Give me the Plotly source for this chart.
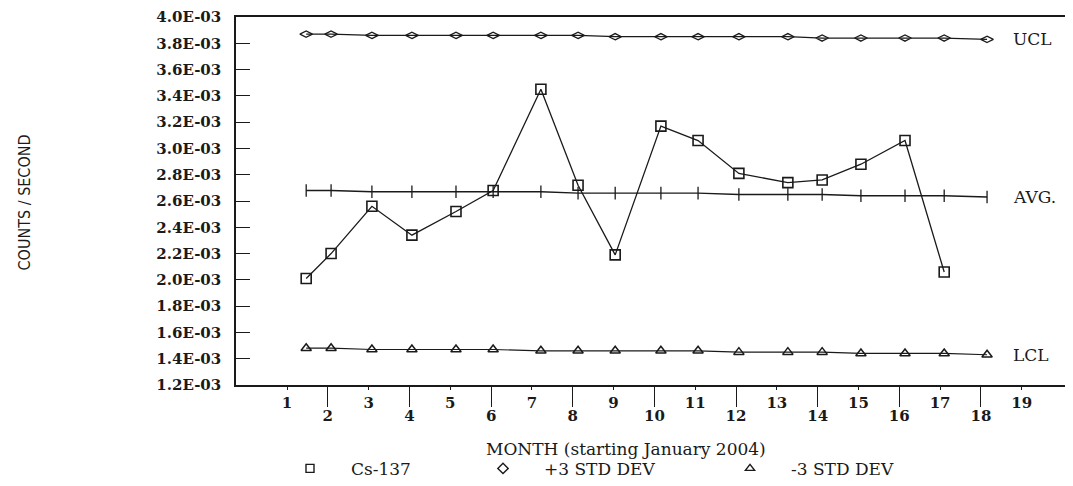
import plotly.graph_objects as go

# ---------------- data ----------------
# sample positions along the month axis (fractional months)
sample_month = [1.47, 2.08, 3.08, 4.06, 5.14, 6.05, 7.22, 8.13, 9.04, 10.16,
                11.07, 12.07, 13.27, 14.11, 15.06, 16.14, 17.10, 18.15]
# Cs-137 counts / second (17 readings)
cs137 = [2.01e-3, 2.20e-3, 2.56e-3, 2.34e-3, 2.52e-3, 2.68e-3, 3.45e-3, 2.72e-3,
         2.19e-3, 3.17e-3, 3.06e-3, 2.81e-3, 2.74e-3, 2.76e-3, 2.88e-3, 3.06e-3,
         2.06e-3]
ucl = [3.87e-3, 3.87e-3, 3.86e-3, 3.86e-3, 3.86e-3, 3.86e-3, 3.86e-3, 3.86e-3,
       3.85e-3, 3.85e-3, 3.85e-3, 3.85e-3, 3.85e-3, 3.84e-3, 3.84e-3, 3.84e-3,
       3.84e-3, 3.83e-3]
avg = [2.68e-3, 2.68e-3, 2.67e-3, 2.67e-3, 2.67e-3, 2.67e-3, 2.67e-3, 2.66e-3,
       2.66e-3, 2.66e-3, 2.66e-3, 2.65e-3, 2.65e-3, 2.65e-3, 2.64e-3, 2.64e-3,
       2.64e-3, 2.63e-3]
lcl = [1.48e-3, 1.48e-3, 1.47e-3, 1.47e-3, 1.47e-3, 1.47e-3, 1.46e-3, 1.46e-3,
       1.46e-3, 1.46e-3, 1.46e-3, 1.45e-3, 1.45e-3, 1.45e-3, 1.44e-3, 1.44e-3,
       1.44e-3, 1.43e-3]

month_even = [2, 4, 6, 8, 10, 12, 14, 16, 18]
month_odd = [1, 3, 5, 7, 9, 11, 13, 15, 17, 19]
y_ticks = [1.2e-3, 1.4e-3, 1.6e-3, 1.8e-3, 2.0e-3, 2.2e-3, 2.4e-3, 2.6e-3,
           2.8e-3, 3.0e-3, 3.2e-3, 3.4e-3, 3.6e-3, 3.8e-3, 4.0e-3]
y_tick_text = [f"{v:.1E}" for v in y_ticks]

series_names = ["Cs-137", "+3 STD DEV", "-3 STD DEV"]
right_labels = ["UCL", "AVG.", "LCL"]
x_title = "MONTH (starting January 2004)"
y_title = "COUNTS / SECOND"

# ---------------- layout geometry ----------------
INK = "#1a1a1a"
SERIF = "DejaVu Serif, Liberation Serif, serif"
W, H = 1073, 486
OFF = 8                      # page body margin offset
PLOT_L, PLOT_T, PLOT_B = 236 - OFF, 12 - OFF, 385 - OFF
MT, MB = PLOT_T, H - PLOT_B
PLOT_H = PLOT_B - PLOT_T
PX_PER_MONTH = 40.82
M1_PX = 287 - OFF
X_RANGE = [1 + (PLOT_L - M1_PX) / PX_PER_MONTH, 1 + (W - M1_PX) / PX_PER_MONTH]


def px_x(p):
    return (p - OFF) / W


def px_y(p):
    return (PLOT_B - (p - OFF)) / PLOT_H


fig = go.Figure()

fig.add_trace(go.Scatter(
    x=sample_month, y=ucl, mode="lines+markers", showlegend=False,
    line=dict(color=INK, width=1.2),
    marker=dict(symbol="diamond-wide-open", size=9, color=INK, line=dict(width=1.3))))
fig.add_trace(go.Scatter(
    x=sample_month, y=avg, mode="lines+markers", showlegend=False,
    line=dict(color=INK, width=1.4),
    marker=dict(symbol="line-ns", size=9, color=INK, line=dict(width=1.3, color=INK))))
fig.add_trace(go.Scatter(
    x=sample_month, y=lcl, mode="lines+markers", showlegend=False,
    line=dict(color=INK, width=1.2),
    marker=dict(symbol="triangle-up-open", size=9, color=INK, line=dict(width=1.5))))
fig.add_trace(go.Scatter(
    x=sample_month[:len(cs137)], y=cs137, mode="lines+markers", showlegend=False,
    line=dict(color=INK, width=1.3),
    marker=dict(symbol="square-open", size=10, color=INK, line=dict(width=1.6))))

# legend entries (marker only, like the original), one legend box each
legend_symbols = ["square-open", "diamond-open", "triangle-up-open"]
legend_ids = ["legend", "legend2", "legend3"]
for name, sym, lid in zip(series_names, legend_symbols, legend_ids):
    fig.add_trace(go.Scatter(
        x=[None], y=[None], mode="markers", name=name, legend=lid,
        marker=dict(symbol=sym, size=8, color=INK, line=dict(width=1.4))))

# overlaid x axis carrying the odd month labels on the upper row
fig.add_trace(go.Scatter(x=[None], y=[None], xaxis="x2", showlegend=False,
                         hoverinfo="skip"))

tick_font = dict(family=SERIF, size=15, color=INK, weight="bold")
legend_font = dict(family=SERIF, size=17, color=INK)


def legend_box(symbol_px):
    return dict(orientation="h", x=px_x(symbol_px - 41), xanchor="left",
                y=px_y(470), yanchor="middle", font=legend_font,
                itemwidth=72, bgcolor="rgba(0,0,0,0)")


fig.update_layout(
    width=W, height=H,
    margin=dict(l=0, r=0, t=MT, b=MB),
    paper_bgcolor="white", plot_bgcolor="white",
    xaxis=dict(
        domain=[PLOT_L / W, 1.0], range=X_RANGE,
        tickmode="array", tickvals=month_even, ticktext=[str(m) for m in month_even],
        ticks="outside", ticklen=20, tickwidth=1.2, tickcolor=INK,
        ticklabelstandoff=-4,
        showline=True, mirror=True, linecolor=INK, linewidth=1.5,
        showgrid=False, zeroline=False, tickfont=tick_font),
    xaxis2=dict(
        overlaying="x", anchor="y", side="bottom",
        domain=[PLOT_L / W, 1.0], range=X_RANGE,
        tickmode="array", tickvals=month_odd, ticktext=[str(m) for m in month_odd],
        ticks="outside", ticklen=4, tickwidth=1, tickcolor=INK,
        showline=False, showgrid=False, zeroline=False, tickfont=tick_font),
    yaxis=dict(
        range=[1.2e-3, 4.0e-3],
        tickmode="array", tickvals=y_ticks, ticktext=y_tick_text,
        ticks="inside", ticklen=14, tickwidth=1.2, tickcolor=INK,
        showline=True, linecolor=INK, linewidth=1.5,
        showgrid=False, zeroline=False, tickfont=tick_font,
        ticklabelstandoff=10, ticklabeloverflow="allow"),
    legend=legend_box(310),
    legend2=legend_box(503),
    legend3=legend_box(750),
    showlegend=True,
)

annotations = [
    dict(text=x_title, xref="paper", yref="paper", x=px_x(626), y=px_y(450),
         xanchor="center", yanchor="middle", showarrow=False,
         font=dict(family=SERIF, size=17, color=INK)),
    dict(text=y_title, xref="paper", yref="paper", x=px_x(24), y=px_y(200),
         xanchor="center", yanchor="middle", textangle=-90, showarrow=False,
         font=dict(family="Liberation Sans Narrow, DejaVu Sans Condensed, sans-serif",
                   size=16, color=INK)),
]
for lab, series in zip(right_labels, [ucl, avg, lcl]):
    annotations.append(dict(
        text=lab, xref="paper", yref="y", x=px_x(1011), y=series[-1],
        xanchor="left", yanchor="middle", showarrow=False,
        font=dict(family=SERIF, size=17, color=INK)))
fig.update_layout(annotations=annotations)

fig.write_html("out.html")
